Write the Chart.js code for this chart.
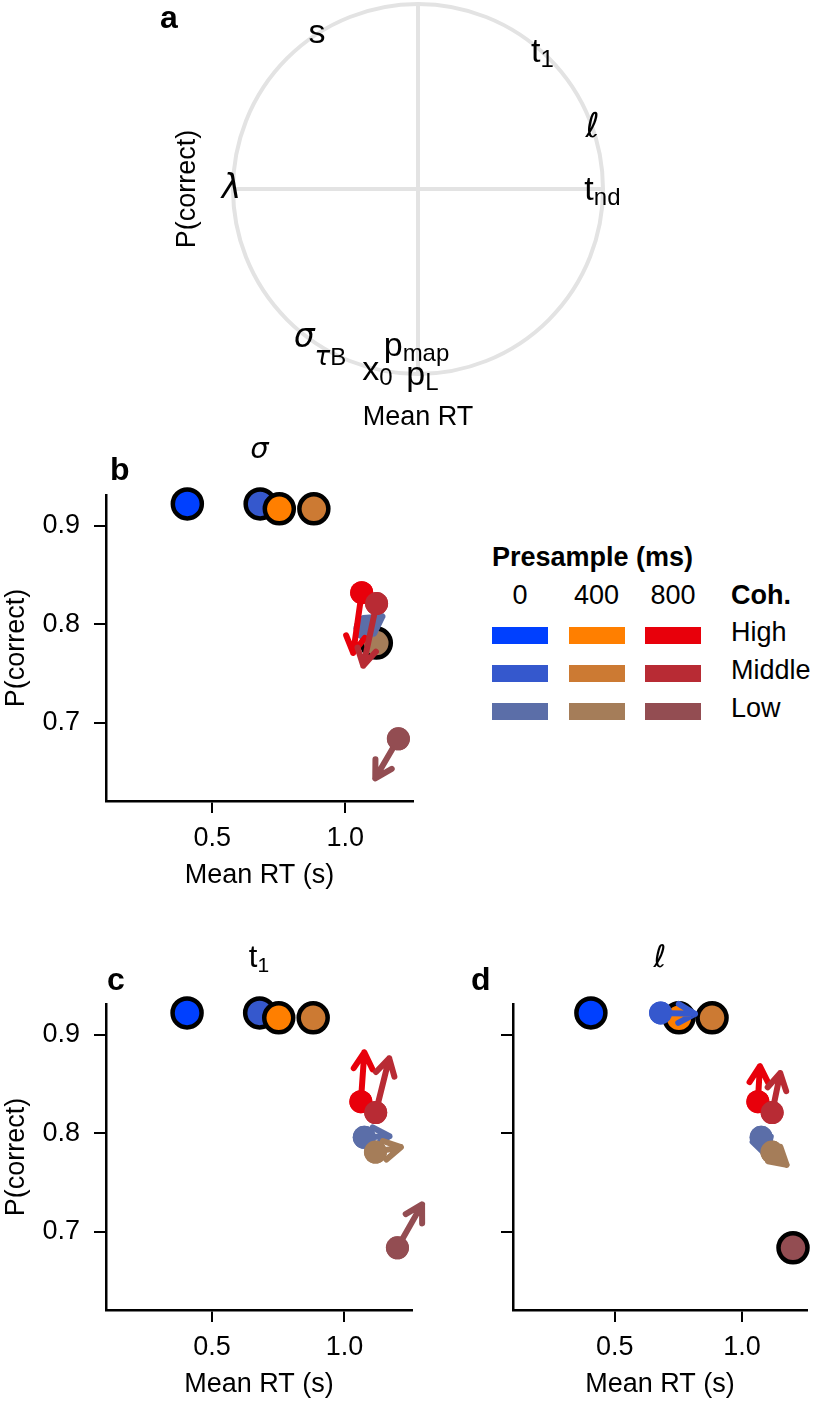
<!DOCTYPE html>
<html>
<head>
<meta charset="utf-8">
<script src="https://cdn.jsdelivr.net/npm/chart.js@4.4.1/dist/chart.umd.min.js"></script>
<style>
  body { margin: 0; background: #fff; }
  #fig { position: relative; width: 826px; height: 1405px; overflow: hidden; font-family: "Liberation Sans", Arial, Helvetica, sans-serif; color: #000; }
  #fig canvas, .abs { position: absolute; }
  .letter { font-weight: bold; font-size: 32px; line-height: 32px; }
  .leg { font-size: 27px; line-height: 27px; white-space: nowrap; }
  .bold { font-weight: bold; }
  .swatch { width: 56px; height: 17px; }
</style>
</head>
<body>
<div id="fig">
  <canvas id="panelA" width="826" height="440" style="left:0;top:0"></canvas>
  <canvas id="panelB" width="440" height="455" style="left:0;top:440px"></canvas>
  <canvas id="panelC" width="440" height="504" style="left:0;top:900px"></canvas>
  <canvas id="panelD" width="386" height="504" style="left:440px;top:900px"></canvas>
  <div class="abs letter" style="left:160px;top:1px">a</div>
  <div class="abs letter" style="left:110px;top:453px">b</div>
  <div class="abs letter" style="left:107px;top:963px">c</div>
  <div class="abs letter" style="left:471px;top:963px">d</div>
  <div id="legend"></div>
</div>
<script>
const FONT = '"Liberation Sans", Arial, Helvetica, sans-serif';
const MATH = '"DejaVu Sans", sans-serif';

// ---------------- data ----------------
const presamples = ['0', '400', '800'];
const coherences = ['High', 'Middle', 'Low'];

// fitted mean RT (s) and P(correct), one value per coherence (High, Middle, Low)
const meanRT0 = [0.406, 0.680, 1.075];
const meanRT400 = [0.752, 0.882, 1.117];
const meanRT800 = [1.062, 1.118, 1.200];
const pCorrect0 = [0.922, 0.922, 0.796];
const pCorrect400 = [0.917, 0.917, 0.781];
const pCorrect800 = [0.832, 0.821, 0.684];

// where each point goes when the parameter is changed; null = no visible shift
const sigmaTips0 = [null, null, [1.140, 0.808]];
const sigmaTips400 = [null, null, null];
const sigmaTips800 = [[1.030, 0.771], [1.068, 0.758], [1.113, 0.644]];

const t1Tips0 = [null, null, [1.170, 0.797]];
const t1Tips400 = [null, null, [1.213, 0.786]];
const t1Tips800 = [[1.075, 0.882], [1.169, 0.876], [1.293, 0.728]];

const ellTips0 = [null, [0.815, 0.921], [1.095, 0.778]];
const ellTips400 = [null, null, [1.175, 0.768]];
const ellTips800 = [[1.070, 0.868], [1.150, 0.861], null];

const rtTicks = [0.5, 1.0];
const pcTicks = [0.7, 0.8, 0.9];
const rtRange = [0.1, 1.255];
const pcRange = [0.621, 0.931];

// panel a: direction of each parameter's effect (Mean RT, P(correct))
const paramNames = ['s', 't1', 'ℓ', 'tnd', 'λ', 'στB', 'pmap', 'x0', 'pL'];
const paramRT = [-0.546, 0.673, 0.943, 0.997, -1.008, -0.530, -0.008, -0.219, 0.024];
const paramPC = [0.789, 0.686, 0.281, -0.059, -0.049, -0.854, -0.903, -1.032, -1.059];

// ---------------- styles ----------------
const colors0 = ['#0040ff', '#3558cd', '#5b6ea8'];
const colors400 = ['#ff7f00', '#cc7a33', '#a57d59'];
const colors800 = ['#e8000b', '#b82b34', '#934d52'];
const wheelGray = '#e3e3e3';

const partStyle = {
  n: { font: '34px ' + FONT, dy: 0 },
  sub: { font: '24px ' + FONT, dy: 5 },
  m: { font: '34px ' + MATH, dy: 0 },
  mi: { font: 'italic 33px ' + MATH, dy: 0 },
  submi: { font: 'italic 26px ' + MATH, dy: 18 },
  subB: { font: '24px ' + FONT, dy: 18 }
};
const labelParts = {
  's': [['s', 'n']],
  't1': [['t', 'n'], ['1', 'sub']],
  'ℓ': [['ℓ', 'm']],
  'tnd': [['t', 'n'], ['nd', 'sub']],
  'λ': [['λ', 'mi']],
  'στB': [['σ', 'mi'], ['τ', 'submi'], ['B', 'subB']],
  'pmap': [['p', 'n'], ['map', 'sub']],
  'x0': [['x', 'n'], ['0', 'sub']],
  'pL': [['p', 'n'], ['L', 'sub']]
};

// draws main text + subscripts centred on x, main baseline on y
function drawParts(ctx, parts, x, y, styles) {
  ctx.save();
  ctx.fillStyle = '#000';
  ctx.textBaseline = 'alphabetic';
  ctx.textAlign = 'left';
  let w = 0;
  parts.forEach(p => { ctx.font = styles[p[1]].font; w += ctx.measureText(p[0]).width; });
  let cx = x - w / 2;
  parts.forEach(p => {
    ctx.font = styles[p[1]].font;
    ctx.fillText(p[0], cx, y + styles[p[1]].dy);
    cx += ctx.measureText(p[0]).width;
  });
  ctx.restore();
}

function drawArrow(ctx, x0, y0, x1, y1, color) {
  const ang = Math.atan2(y1 - y0, x1 - x0);
  const head = 19, spread = 0.52;
  ctx.save();
  ctx.strokeStyle = color;
  ctx.lineWidth = 6;
  ctx.lineCap = 'round';
  ctx.lineJoin = 'round';
  ctx.beginPath();
  ctx.moveTo(x0, y0);
  ctx.lineTo(x1, y1);
  ctx.moveTo(x1 - head * Math.cos(ang - spread), y1 - head * Math.sin(ang - spread));
  ctx.lineTo(x1, y1);
  ctx.lineTo(x1 - head * Math.cos(ang + spread), y1 - head * Math.sin(ang + spread));
  ctx.stroke();
  ctx.restore();
}

// ---------------- legend ----------------
const legend = document.getElementById('legend');
function addDiv(cls, style, text) {
  const d = document.createElement('div');
  d.className = 'abs ' + cls;
  d.style.cssText = style;
  if (text !== undefined) d.textContent = text;
  legend.appendChild(d);
}
addDiv('leg bold', 'left:492px;top:544px', 'Presample (ms)');
addDiv('leg bold', 'left:731px;top:582px', 'Coh.');
const legendColors = [colors0, colors400, colors800];
presamples.forEach((p, c) => {
  const left = 492 + c * 76.5;
  addDiv('leg', `left:${left}px;top:582px;width:56px;text-align:center`, p);
  coherences.forEach((coh, r) => {
    addDiv('swatch', `left:${left}px;top:${627 + r * 38}px;background:${legendColors[c][r]}`);
  });
});
coherences.forEach((coh, r) => addDiv('leg', `left:731px;top:${619 + r * 38}px`, coh));

// ---------------- panel a ----------------
const wheelPlugin = {
  id: 'wheel',
  beforeDatasetsDraw(chart) {
    const { ctx, scales: { x, y } } = chart;
    const cx = x.getPixelForValue(0), cy = y.getPixelForValue(0);
    const r = x.getPixelForValue(1) - cx;
    ctx.save();
    ctx.strokeStyle = wheelGray;
    ctx.lineWidth = 4;
    ctx.beginPath();
    ctx.arc(cx, cy, r, 0, Math.PI * 2);
    ctx.stroke();
    ctx.restore();
  },
  afterDatasetsDraw(chart) {
    const { ctx, scales: { x, y } } = chart;
    paramNames.forEach((name, i) => {
      drawParts(ctx, labelParts[name], x.getPixelForValue(paramRT[i]), y.getPixelForValue(paramPC[i]), partStyle);
    });
  }
};

new Chart(document.getElementById('panelA'), {
  type: 'scatter',
  data: {
    datasets: [
      { data: [{ x: -1, y: 0 }, { x: 1, y: 0 }], showLine: true, borderColor: wheelGray, borderWidth: 4, pointRadius: 0 },
      { data: [{ x: 0, y: -1 }, { x: 0, y: 1 }], showLine: true, borderColor: wheelGray, borderWidth: 4, pointRadius: 0 }
    ]
  },
  options: {
    responsive: false,
    animation: false,
    layout: { padding: { left: 150, right: 223, top: 4, bottom: 0 } },
    plugins: { legend: { display: false }, tooltip: { enabled: false } },
    scales: {
      x: {
        min: -1, max: 1,
        afterFit: s => { s.height = 66; },
        grid: { display: false }, border: { display: false }, ticks: { display: false },
        title: { display: true, text: 'Mean RT', color: '#000', font: { family: FONT, size: 27 }, padding: { top: 0, bottom: 6 } }
      },
      y: {
        min: -1, max: 1,
        afterFit: s => { s.width = 83; },
        grid: { display: false }, border: { display: false }, ticks: { display: false },
        title: { display: true, text: 'P(correct)', color: '#000', font: { family: FONT, size: 27 }, padding: { top: 21, bottom: 0 } }
      }
    }
  },
  plugins: [wheelPlugin]
});

// ---------------- panels b, c, d ----------------
function series(rt, pc, tips, colors, order) {
  return {
    order: order,
    clip: false,
    data: rt.map((v, i) => ({ x: v, y: pc[i] })),
    tips: tips,
    pointBackgroundColor: colors,
    pointBorderColor: '#000',
    pointBorderWidth: tips.map(t => t ? 0 : 4.5),
    pointRadius: tips.map(t => t ? 11.5 : 14.5),
    pointHoverRadius: tips.map(t => t ? 11.5 : 14.5)
  };
}

const shiftPlugin = {
  id: 'shifts',
  afterDatasetsDraw(chart) {
    const { ctx, scales: { x, y } } = chart;
    chart.data.datasets.forEach((ds, di) => {
      const meta = chart.getDatasetMeta(di);
      ds.tips.forEach((tip, i) => {
        if (!tip) return;
        const pt = meta.data[i];
        drawArrow(ctx, pt.x, pt.y, x.getPixelForValue(tip[0]), y.getPixelForValue(tip[1]), ds.pointBackgroundColor[i]);
        pt.draw(ctx);
      });
    });
  }
};

const titleStyle = {
  n: { font: '31px ' + FONT, dy: 0 },
  sub: { font: '21px ' + FONT, dy: 5 },
  m: { font: '31px ' + MATH, dy: 0 },
  mi: { font: 'italic 29px ' + MATH, dy: 0 }
};
function titlePlugin(parts) {
  return {
    id: 'panelTitle',
    afterDraw(chart) {
      const a = chart.chartArea;
      drawParts(chart.ctx, parts, (a.left + a.right) / 2, a.top - 37, titleStyle);
    }
  };
}

function axisOptions(showY, yWidth) {
  const tickFont = { family: FONT, size: 27 };
  return {
    x: {
      type: 'linear', min: rtRange[0], max: rtRange[1],
      afterBuildTicks: s => { s.ticks = rtTicks.map(v => ({ value: v })); },
      afterFit: s => { s.height = 94; },
      border: { display: true, color: '#000', width: 2.5 },
      grid: { drawOnChartArea: false, drawTicks: true, tickLength: 12, color: '#000', lineWidth: 2 },
      ticks: { color: '#000', font: tickFont, padding: 9, maxRotation: 0, callback: v => v.toFixed(1) },
      title: { display: true, text: 'Mean RT (s)', color: '#000', font: tickFont, padding: { top: 0, bottom: 3 } }
    },
    y: {
      type: 'linear', min: pcRange[0], max: pcRange[1],
      afterBuildTicks: s => { s.ticks = pcTicks.map(v => ({ value: v })); },
      afterFit: s => { s.width = yWidth; },
      border: { display: true, color: '#000', width: 2.5 },
      grid: { drawOnChartArea: false, drawTicks: true, tickLength: 12, color: '#000', lineWidth: 2 },
      ticks: { display: showY, color: '#000', font: tickFont, padding: 14, callback: v => v.toFixed(1) },
      title: { display: showY, text: 'P(correct)', color: '#000', font: tickFont, padding: { top: 0, bottom: 0 } }
    }
  };
}

function makePanel(id, tips0, tips400, tips800, title, showY, yWidth, padding) {
  new Chart(document.getElementById(id), {
    type: 'scatter',
    data: {
      datasets: [
        series(meanRT0, pCorrect0, tips0, colors0, 3),
        series(meanRT400, pCorrect400, tips400, colors400, 2),
        series(meanRT800, pCorrect800, tips800, colors800, 1)
      ]
    },
    options: {
      responsive: false,
      animation: false,
      layout: { padding: padding },
      plugins: { legend: { display: false }, tooltip: { enabled: false } },
      scales: axisOptions(showY, yWidth)
    },
    plugins: [shiftPlugin, titlePlugin(title)]
  });
}

makePanel('panelB', sigmaTips0, sigmaTips400, sigmaTips800, [['σ', 'mi']], true, 106,
  { left: 0, right: 27, top: 55, bottom: 0 });
makePanel('panelC', t1Tips0, t1Tips400, t1Tips800, [['t', 'n'], ['1', 'sub']], true, 106,
  { left: 0, right: 28, top: 104, bottom: 0 });
makePanel('panelD', ellTips0, ellTips400, ellTips800, [['ℓ', 'm']], false, 73,
  { left: 0, right: 4, top: 104, bottom: 0 });
</script>
</body>
</html>
